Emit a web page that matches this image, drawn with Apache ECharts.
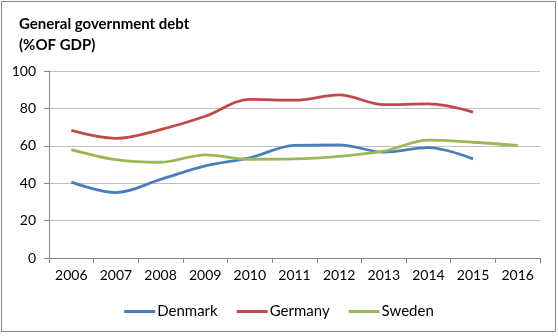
<!DOCTYPE html>
<html><head><meta charset="utf-8">
<script src="https://cdn.jsdelivr.net/npm/echarts@6/dist/echarts.min.js"></script>
<style>
html,body{margin:0;padding:0;background:#fff;}
#frame{position:absolute;left:1px;top:1px;width:553px;height:329px;border:1px solid #868686;}
#c{position:absolute;left:0;top:0;width:558px;height:336px;}
</style></head>
<body><div id="frame"></div><div id="c"></div>
<script>
const years = ['2006','2007','2008','2009','2010','2011','2012','2013','2014','2015','2016'];
const denmark = [40.6, 35, 42, 49.3, 53.6, 60.2, 60.5, 56.6, 59, 53, null];
const germany = [68.2, 64, 68.7, 75.8, 84.8, 84.4, 87.2, 82, 82.4, 78, null];
const sweden  = [58, 52.6, 51.2, 55.2, 52.8, 53, 54.4, 57.1, 63, 61.9, 60.2];
const yTicks = [0, 20, 40, 60, 80, 100];

const chart = echarts.init(document.getElementById('c'));
const font = 'Lato, "Open Sans", sans-serif';
function line(name, data, color){
  return {name, type:'line', data, smooth:0.35, showSymbol:false, symbol:'none',
    lineStyle:{width:2.8, color}, itemStyle:{color}, connectNulls:false};
}
chart.setOption({
  animation:false,
  title:{text:'General government debt\n(%OF GDP)', left:14, top:9,
    textStyle:{fontFamily:font, fontWeight:'bold', fontSize:15, color:'#000', lineHeight:21}},
  grid:{left:49, right:18, top:71, bottom:78, containLabel:false},
  legend:{bottom:12, left:'center', itemWidth:31, itemHeight:3, itemGap:19, icon:'rect',
    textStyle:{fontFamily:font, fontSize:15, color:'#000', padding:[0,0,0,-3]},
    data:['Denmark','Germany','Sweden']},
  xAxis:{type:'category', data:years, boundaryGap:true,
    axisLine:{lineStyle:{color:'#868686', width:1}},
    axisTick:{show:true, length:5, lineStyle:{color:'#868686'}},
    axisLabel:{fontFamily:font, fontSize:14, color:'#000', margin:10}},
  yAxis:{type:'value', min:yTicks[0], max:yTicks[yTicks.length-1], interval:20,
    axisLine:{show:true, lineStyle:{color:'#868686'}},
    axisTick:{show:true, length:5, lineStyle:{color:'#868686'}},
    splitLine:{lineStyle:{color:'#bfbfbf', width:1}},
    axisLabel:{fontFamily:font, fontSize:14, color:'#000', margin:13}},
  series:[
    line('Denmark', denmark, '#4A7EBB'),
    line('Germany', germany, '#BE4B48'),
    line('Sweden', sweden, '#98B954')
  ]
});
</script></body></html>
